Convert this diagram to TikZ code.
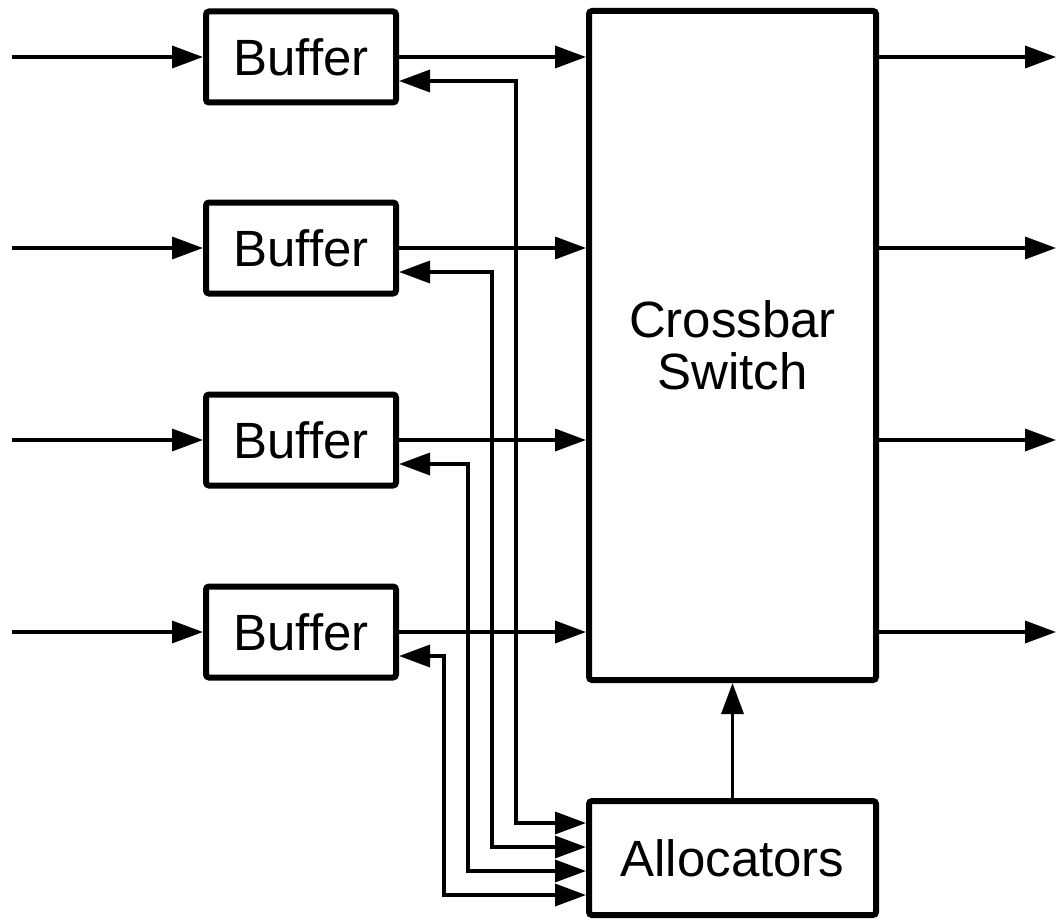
\documentclass[tikz,border=0pt]{standalone}
\usepackage{fontspec}
\setmainfont{Liberation Sans}
\usepackage{tikz}
\usetikzlibrary{arrows.meta,positioning,calc}
\tikzset{
 box/.style={draw=black,line width=6pt,rounded corners=3pt,align=center,inner sep=0pt,
   font=\fontsize{51}{52}\selectfont,fill=white},
 bufbox/.style={box,minimum width=190pt,minimum height=91pt},
 bigbox/.style={box,minimum width=287pt},
 arrow/.style={-{Triangle[length=31pt,width=22pt]},line width=3.5pt,draw=black},
 biarrow/.style={{Triangle[length=31pt,width=22pt]}-{Triangle[length=31pt,width=22pt]},line width=3.5pt,draw=black}
}
\begin{document}
\begin{tikzpicture}[x=1pt,y=-1pt]
 \useasboundingbox (0,0) rectangle (1056,920);
 \node[bufbox] (buf1) at (301,57) {Buffer};
 \node[bufbox] (buf2) at (301,248) {Buffer};
 \node[bufbox] (buf3) at (301,440) {Buffer};
 \node[bufbox] (buf4) at (301,632) {Buffer};
 \node[bigbox,minimum height=669pt] (xbar) at (732.5,345.5) {Crossbar\\Switch};
 \node[bigbox,minimum height=114pt] (alloc) at (732.5,858) {Allocators};
 % inputs and outputs
 \coordinate (in1) at (12,57);
 \coordinate (in2) at (12,248);
 \coordinate (in3) at (12,440);
 \coordinate (in4) at (12,632);
 \coordinate (out1) at (1056,57);
 \coordinate (out2) at (1056,248);
 \coordinate (out3) at (1056,440);
 \coordinate (out4) at (1056,632);
 \draw[arrow] (in1)--(buf1);
 \draw[arrow] (in2)--(buf2);
 \draw[arrow] (in3)--(buf3);
 \draw[arrow] (in4)--(buf4);
 \draw[arrow] (buf1.east)--(buf1.east -| xbar.west);
 \draw[arrow] (buf2.east)--(buf2.east -| xbar.west);
 \draw[arrow] (buf3.east)--(buf3.east -| xbar.west);
 \draw[arrow] (buf4.east)--(buf4.east -| xbar.west);
 \draw[arrow] (out1 -| xbar.east)--(out1);
 \draw[arrow] (out2 -| xbar.east)--(out2);
 \draw[arrow] (out3 -| xbar.east)--(out3);
 \draw[arrow] (out4 -| xbar.east)--(out4);
 % allocator links
 \draw[biarrow] ([yshift=-24pt]buf1.east) -| ([xshift=-70pt,yshift=35pt]alloc.west) -- ([yshift=35pt]alloc.west);
 \draw[biarrow] ([yshift=-24pt]buf2.east) -| ([xshift=-94pt,yshift=11pt]alloc.west) -- ([yshift=11pt]alloc.west);
 \draw[biarrow] ([yshift=-24pt]buf3.east) -| ([xshift=-118pt,yshift=-13pt]alloc.west) -- ([yshift=-13pt]alloc.west);
 \draw[biarrow] ([yshift=-24pt]buf4.east) -| ([xshift=-142pt,yshift=-37pt]alloc.west) -- ([yshift=-37pt]alloc.west);
 \draw[arrow] (alloc)--(xbar);
\end{tikzpicture}
\end{document}
